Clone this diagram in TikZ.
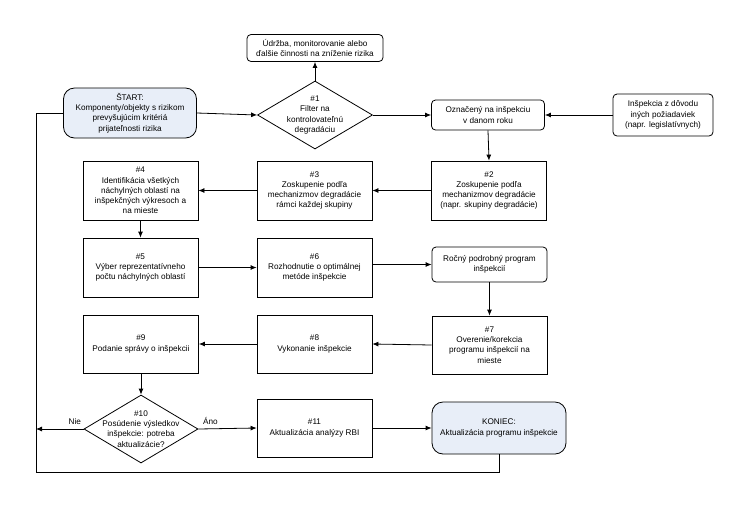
\documentclass[tikz,border=0pt]{standalone}
\usepackage{fontspec}
\setmainfont{Liberation Sans}
\usetikzlibrary{positioning,shapes.geometric,arrows.meta}
\definecolor{startfill}{HTML}{E8EEF8}
\begin{document}
\begin{tikzpicture}[x=1pt,y=-1pt,
>={Latex[length=6pt,width=5pt]},
every path/.style={line width=0.8pt},
every node/.style={font=\fontsize{8.2}{10.2}\selectfont, align=center, inner sep=1pt},
stepbox/.style={rectangle, draw=black, minimum width=115pt, minimum height=59pt},
roundbox/.style={rectangle, rounded corners=4pt, draw=black, minimum width=115pt, minimum height=35pt},
terminal/.style={rectangle, rounded corners=11pt, draw=black, fill=startfill, minimum width=134pt, minimum height=52pt},
decision/.style={diamond, draw=black, minimum width=115pt, minimum height=68pt, inner sep=0pt}
]
\useasboundingbox (0,0) rectangle (750,507);

% top row
\node[roundbox, minimum width=136pt, minimum height=27pt](maint) at (315,48){Údržba, monitorovanie alebo\\ďalšie činnosti na zníženie rizika};
\node[terminal, minimum width=133pt, minimum height=50pt](start) at (130,113){ŠTART:\\Komponenty/objekty s rizikom\\prevyšujúcim kritériá\\prijateľnosti rizika};
\node[decision](filter) at (315,115){};
\node(filter_txt) at (filter){\#1\\Filter na\\kontrolovateľnú\\degradáciu};
\node[roundbox, minimum width=113pt, minimum height=30pt](marked) at (488,115){Označený na inšpekciu\\v danom roku};
\node[roundbox, minimum width=100pt, minimum height=42pt](other) at (663,115){Inšpekcia z dôvodu\\iných požiadaviek\\(napr. legislatívnych)};

% steps
\node[stepbox](group_mech) at (489,190.5){\#2\\Zoskupenie podľa\\mechanizmov degradácie\\(napr. skupiny degradácie)};
\node[stepbox](group_sub) at (314.5,190.5){\#3\\Zoskupenie podľa\\mechanizmov degradácie\\rámci každej skupiny};
\node[stepbox](ident) at (140.5,190.5){\#4\\Identifikácia všetkých\\náchylných oblastí na\\inšpekčných výkresoch a\\na mieste};
\node[stepbox](select) at (140.5,267.5){\#5\\Výber reprezentatívneho\\počtu náchylných oblastí};
\node[stepbox](method) at (314.5,267.5){\#6\\Rozhodnutie o optimálnej\\metóde inšpekcie};
\node[roundbox](annual) at (489.5,264.5){Ročný podrobný program\\inšpekcií};
\node[stepbox, minimum height=58pt](verify) at (489.5,345){\#7\\Overenie/korekcia\\programu inšpekcií na\\mieste};
\node[stepbox, minimum height=58pt](perform) at (314.5,344){\#8\\Vykonanie inšpekcie};
\node[stepbox, minimum height=58pt](report) at (141,344){\#9\\Podanie správy o inšpekcii};
\node[decision, minimum width=114pt](assess) at (141,429){};
\node(assess_txt) at (assess){\#10\\Posúdenie výsledkov\\inšpekcie: potreba\\aktualizácie?};
\node[stepbox, minimum height=58pt](update) at (314.5,428){\#11\\Aktualizácia analýzy RBI};
\node[terminal](finish) at (499,428){KONIEC:\\Aktualizácia programu inšpekcie};

\coordinate(loop_corner) at (36,472);

\draw[->] (filter.north) -- (maint.south);
\draw[->] (start.east) -- (filter.west);
\draw[->] (filter.east) -- (marked.west);
\draw[->] (other.west) -- (marked.east);
\draw[->] (marked.south) -- (group_mech.north);
\draw[->] (group_mech.west) -- (group_sub.east);
\draw[->] (group_sub.west) -- (ident.east);
\draw[->] (ident.south) -- (select.north);
\draw[->] (select.east) -- (method.west);
\draw[->] (method.east |- annual.west) -- (annual.west);
\draw[->] (annual.south) -- (verify.north);
\draw[->] (verify.west) -- (perform.east);
\draw[->] (perform.west) -- (report.east);
\draw[->] (report.south) -- (assess.north);
\draw[->] (assess.east) -- node[above, xshift=-17pt, yshift=3pt]{Áno} (update.west);
\draw[->] (update.east) -- (finish.west);
\draw[->] (assess.west) -- node[above, xshift=15pt, yshift=3pt]{Nie} (assess.west -| loop_corner);
\draw (finish.south) |- (loop_corner) |- (start.west);
\end{tikzpicture}
\end{document}
